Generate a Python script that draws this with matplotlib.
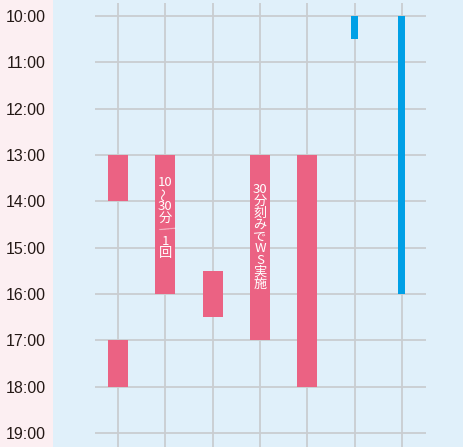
import matplotlib.pyplot as plt

plt.rcParams['font.family'] = ['Noto Sans CJK JP', 'DejaVu Sans']

PINK = '#EB6283'
BLUE = '#00A0E6'

# hours on the y axis
hours = list(range(10, 20))
hour_labels = [f'{h}:00' for h in hours]

# bars: (column, start hour, end hour, colour)
bar_cols = [0, 0, 1, 2, 3, 4, 5, 6]
bar_start = [13, 17, 13, 15.5, 13, 13, 10, 10]
bar_end = [14, 18, 16, 16.5, 17, 18, 10.5, 16]
bar_kind = ['p', 'p', 'p', 'p', 'p', 'p', 'b', 'b']

# vertical labels inside bars: column, first-row hour, tokens
label_cols = [1, 3]
label_top = [13.6, 13.75]
label_tokens = [['10', '〜', '30', '分', '／', '1', '回'],
                ['30', '分', '刻', 'み', 'で', 'W', 'S', '実', '施']]

fig = plt.figure(figsize=(4.64, 4.47), dpi=100)
fig.patch.set_facecolor('#FCEFF2')
ax = fig.add_axes([53 / 464, 0, 1 - 53 / 464, 1])
ax.set_facecolor('#E0F0FA')

px_x = 47.33  # pixels per column
px_y = 46.33  # pixels per hour
ax.set_xlim((53 - 118) / px_x, (464 - 118) / px_x)
ax.set_ylim(19 + 14 / px_y, 10 - 16 / px_y)

# grid
ncols = 7
ax.vlines(range(ncols), 19 + 14 / px_y, 10 - 13 / px_y, color='#C9CDD1', lw=1.3, zorder=1)
ax.hlines(hours, -23 / px_x, 6 + 24 / px_x, color='#C9CDD1', lw=1.3, zorder=1)

for c, s, e, k in zip(bar_cols, bar_start, bar_end, bar_kind):
    w = 20 / px_x if k == 'p' else 7 / px_x
    ax.bar(c, e - s, bottom=s, width=w, color=PINK if k == 'p' else BLUE, zorder=2)

step = 11.8 * 72 / 100  # points between rows
for c, top, toks in zip(label_cols, label_top, label_tokens):
    for i, t in enumerate(toks):
        rot = 0
        if t == '〜':
            rot = 90
        elif t == '／':
            rot = -40
        ax.annotate(t, xy=(c, top), xytext=(0, -i * step), textcoords='offset points',
                    ha='center', va='center', color='white', fontsize=9.5,
                    rotation=rot, zorder=3)

ax.set_yticks(hours)
ax.set_yticklabels(hour_labels, fontsize=11.5, color='#231815', family='Liberation Sans')
ax.tick_params(axis='y', length=0, pad=5)
ax.set_xticks([])
for sp in ax.spines.values():
    sp.set_visible(False)

plt.savefig('out.png', dpi=100, facecolor=fig.get_facecolor())
